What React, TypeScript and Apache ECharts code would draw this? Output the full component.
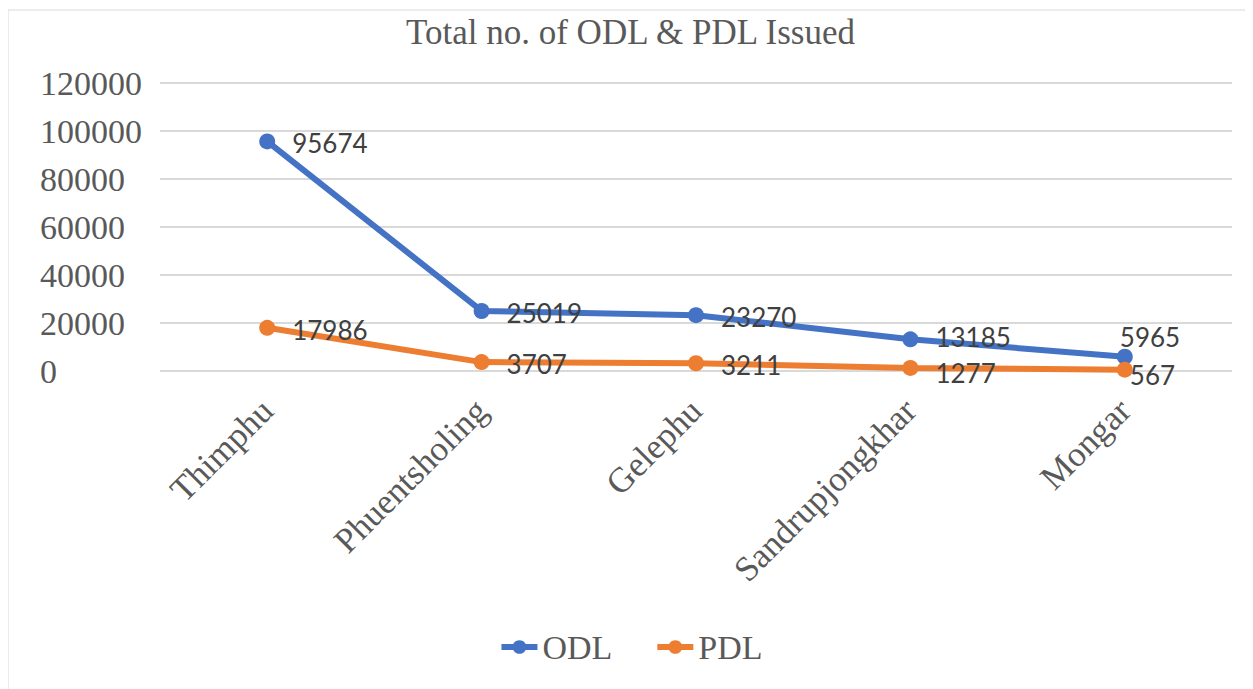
import React, { useEffect, useRef } from "react";
import * as echarts from "echarts";

const categories = ["Thimphu", "Phuentsholing", "Gelephu", "Sandrupjongkhar", "Mongar"];
const odlValues = [95674, 25019, 23270, 13185, 5965];
const pdlValues = [17986, 3707, 3211, 1277, 567];
const titleText = "Total no. of ODL & PDL Issued";

const SERIF = "'Liberation Serif', 'Times New Roman', serif";
const SANS = "Lato, 'Noto Sans', sans-serif";

export default function App() {
  const ref = useRef<HTMLDivElement>(null);
  useEffect(() => {
    if (!ref.current) return;
    const chart = echarts.init(ref.current, null, { renderer: "svg" });
    const labelBase = {
      show: true,
      position: "right",
      distance: 17,
      fontFamily: SANS,
      fontSize: 26,
      lineHeight: 24,
      color: "#404040",
      offset: [0, 2],
    };
    const odlData = odlValues.map((v, i) => {
      if (i === odlValues.length - 1)
        return { value: v, label: { position: [3, -12], align: "left", verticalAlign: "middle", offset: [0, 0] } };
      if (i === 3) return { value: v, label: { offset: [0, -2] } };
      return v;
    });
    const pdlData = pdlValues.map((v, i) => {
      if (i === pdlValues.length - 1)
        return { value: v, label: { position: [13, 13], align: "left", verticalAlign: "middle", offset: [0, 0] } };
      if (i === 3) return { value: v, label: { offset: [0, 5] } };
      return v;
    });
    chart.setOption({
      animation: false,
      backgroundColor: "#ffffff",
      title: {
        text: titleText,
        left: "center",
        top: 2,
        textStyle: { fontFamily: SERIF, fontSize: 35, fontWeight: "normal", color: "#595959" },
      },
      grid: { left: 152, right: 21, top: 75, height: 288 },
      legend: {
        bottom: 20,
        left: "center",
        itemWidth: 36,
        itemHeight: 17,
        itemGap: 42,
        lineStyle: { width: 6 },
        textStyle: { fontFamily: SERIF, fontSize: 34, color: "#595959" },
        data: ["ODL", "PDL"],
      },
      xAxis: {
        type: "category",
        data: categories,
        boundaryGap: true,
        axisLine: { show: false },
        axisTick: { show: false },
        axisLabel: {
          rotate: 45,
          margin: 34,
          fontFamily: SERIF,
          fontSize: 35,
          color: "#595959",
        },
      },
      yAxis: {
        type: "value",
        min: 0,
        max: 120000,
        interval: 20000,
        axisLine: { show: false },
        axisTick: { show: false },
        splitLine: { lineStyle: { color: "#d9d9d9", width: 2 } },
        axisLabel: {
          align: "left",
          margin: 120,
          fontFamily: SERIF,
          fontSize: 34,
          color: "#595959",
          formatter: (v: number) => String(v),
        },
      },
      series: [
        {
          name: "ODL",
          type: "line",
          data: odlData,
          symbol: "circle",
          symbolSize: 16,
          lineStyle: { width: 6, color: "#4472C4" },
          itemStyle: { color: "#4472C4" },
          label: labelBase,
        },
        {
          name: "PDL",
          type: "line",
          data: pdlData,
          symbol: "circle",
          symbolSize: 16,
          lineStyle: { width: 6, color: "#ED7D31" },
          itemStyle: { color: "#ED7D31" },
          label: labelBase,
        },
      ],
      graphic: [
        {
          type: "rect",
          shape: { x: 0, y: 2, width: 1244, height: 690 },
          style: { fill: "none", stroke: "#d9d9d9", lineWidth: 1 },
          silent: true,
        },
      ],
    });
    return () => chart.dispose();
  }, []);
  return <div ref={ref} style={{ width: 1245, height: 681 }} />;
}
